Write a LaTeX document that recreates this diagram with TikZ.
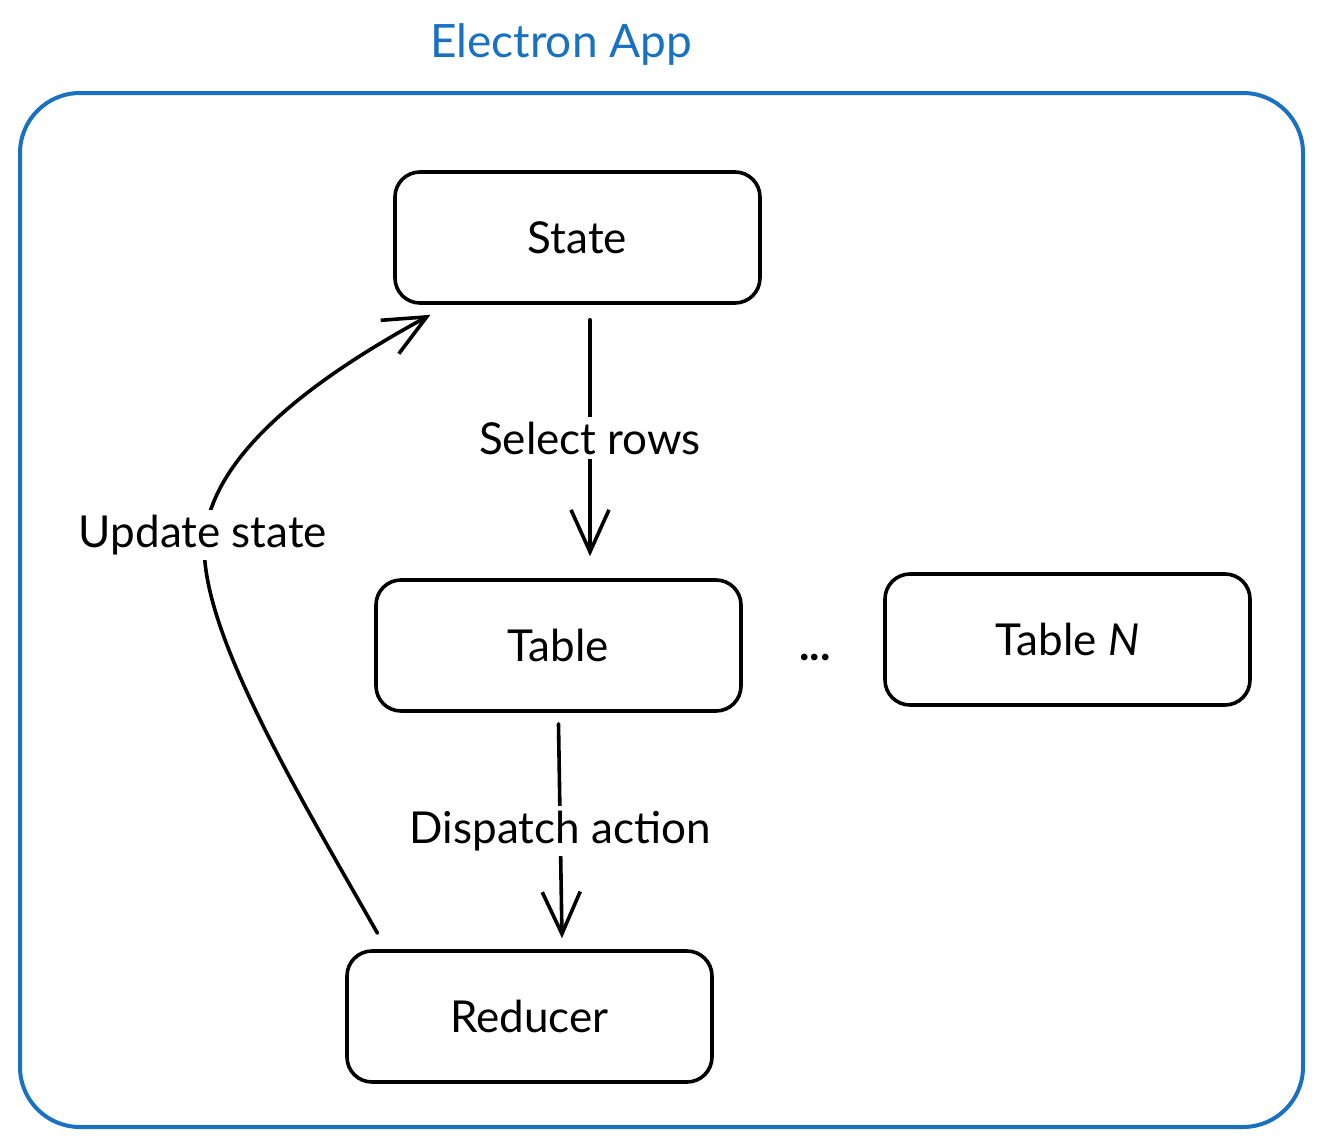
\documentclass[tikz,border=0pt]{standalone}
\usepackage{fontspec}
\setmainfont{Lato}
\usetikzlibrary{arrows.meta}
\definecolor{exblue}{HTML}{1971C2}
\begin{document}
\begin{tikzpicture}[x=1pt,y=-1pt,
 txt/.style={font=\fontsize{44}{50}\selectfont},
 box/.style={txt, draw=black, line width=3.6pt, rounded corners=25pt, minimum width=365pt, minimum height=131pt, inner sep=0pt},
 lbl/.style={txt, fill=white, inner sep=5pt},
 arr/.style={line width=3.6pt, line cap=round, -{Straight Barb[length=42pt,width=38pt,line width=3.6pt]}}]
\useasboundingbox (0,0) rectangle (1323,1146);
\node[draw=exblue, line width=4pt, rounded corners=60pt, minimum width=1283pt, minimum height=1034pt] (app) at (661.5,610) {};
\node[txt, text=exblue, font=\fontsize{46}{52}\selectfont] (title) at (561,45) {Electron App};
\node[box] (state) at (577.5,237.5) {State};
\node[box] (table) at (558.5,645.5) {Table};
\node[box] (tablen) at (1067.5,639.5) {Table \textit{N}};
\node[box] (reducer) at (529.5,1016.5) {Reducer};
\node[txt, anchor=base, font=\bfseries\fontsize{44}{50}\selectfont] (dots) at (815,660) {...};
\draw[arr] ([xshift=12.5pt,yshift=-15pt]state.south) -- node[lbl]{Select rows} ([xshift=31.5pt,yshift=22pt]table.north);
\draw[arr] ([xshift=0pt,yshift=-11pt]table.south) -- node[lbl]{Dispatch action} ([xshift=32.5pt,yshift=11pt]reducer.north);
\coordinate (ustart) at ([xshift=-152pt,yshift=16pt]reducer.north);
\coordinate (uend) at ([xshift=-147pt,yshift=-10pt]state.south);
\draw[arr] (ustart) .. controls (290,780) and (195,620) .. (205,535) .. controls (215,450) and (320,375) .. (uend);
\node[lbl] (ulbl) at (203,535) {Update state};
\end{tikzpicture}
\end{document}
